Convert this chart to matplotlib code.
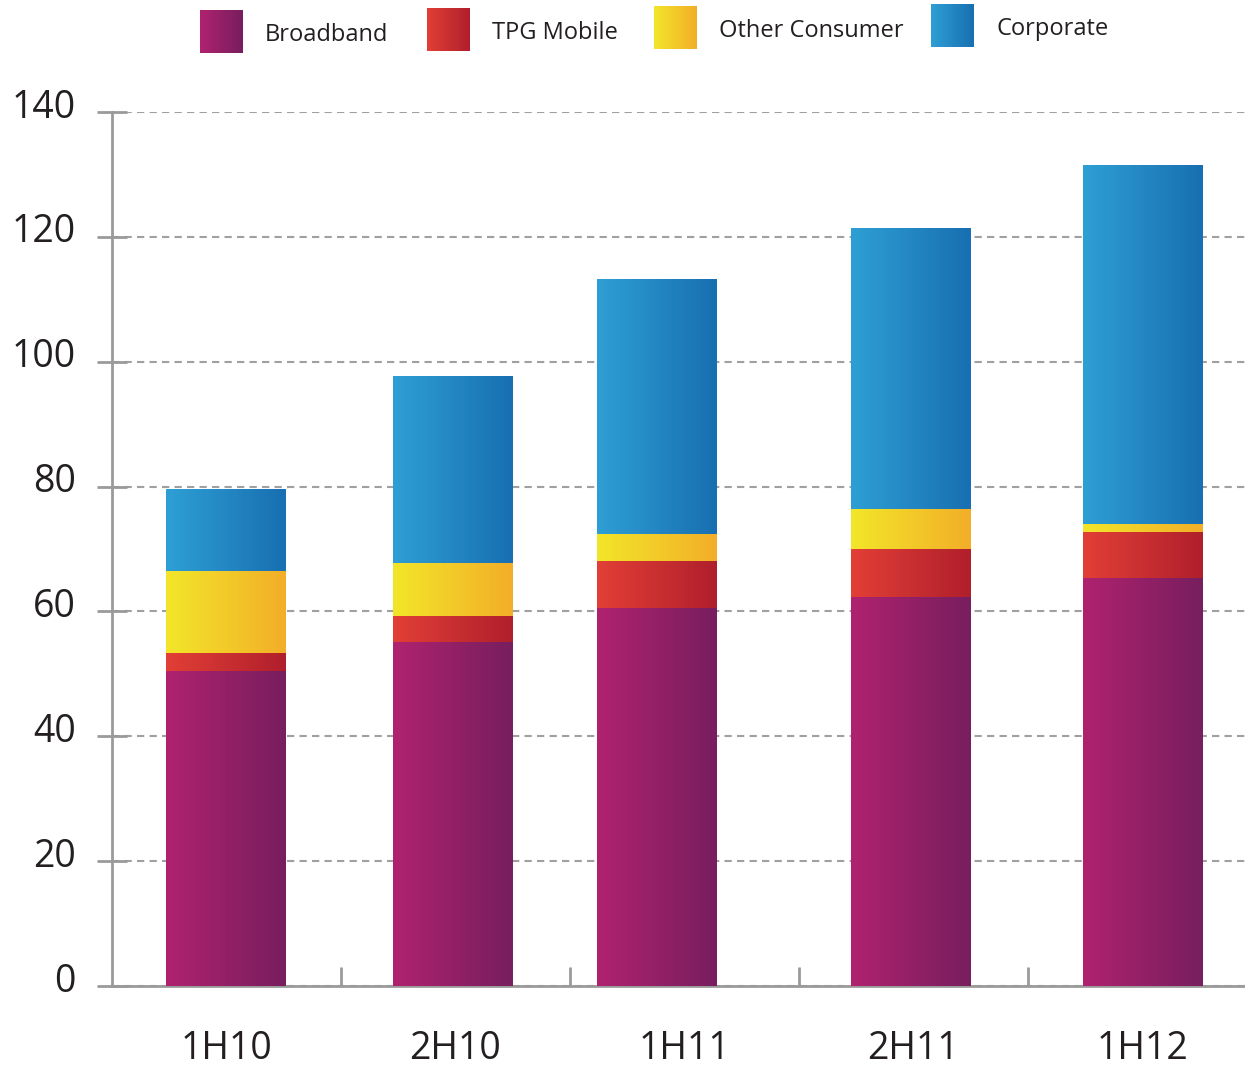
import numpy as np
import matplotlib
matplotlib.use("Agg")
import matplotlib.pyplot as plt
import matplotlib.transforms as mtransforms
from matplotlib.colors import LinearSegmentedColormap
from matplotlib.patches import Rectangle

plt.rcParams['font.family'] = ['Open Sans', 'DejaVu Sans']

# Data
periods = ["1H10", "2H10", "1H11", "2H11", "1H12"]
broadband = [50.5, 55.1, 60.5, 62.3, 65.4]
tpg_mobile = [2.8, 4.2, 7.6, 7.7, 7.3]
other_consumer = [13.2, 8.5, 4.3, 6.4, 1.3]
corporate = [13.1, 29.9, 40.8, 45.0, 57.5]

series_names = ["Broadband", "TPG Mobile", "Other Consumer", "Corporate"]
# left -> right gradient colours for each series
gradients = [("#b0226f", "#771e5e"),
             ("#e23f36", "#b01f2c"),
             ("#f3e62a", "#f2ae28"),
             ("#2e9fd5", "#186fb1")]

# bar layout (slots of width 1; bars are not quite centred in the source)
bar_pos = [0.498, 1.489, 2.382, 3.491, 4.502]
bar_w = 0.522

fig = plt.figure(figsize=(12.45, 10.68), dpi=100)
ax = fig.add_axes([112 / 1245, 1 - 986 / 1068, 1 - 112 / 1245, (986 - 112) / 1068])

grad = np.linspace(0, 1, 256).reshape(1, -1)


def gradient_fill(axis, patch, c1, c2):
    cmap = LinearSegmentedColormap.from_list("g", [c1, c2])
    x0, y0 = patch.get_x(), patch.get_y()
    w, h = patch.get_width(), patch.get_height()
    im = axis.imshow(grad, cmap=cmap, extent=[x0, x0 + w, y0, y0 + h],
                     aspect='auto', interpolation='bicubic', zorder=3)
    im.set_clip_path(patch)


bottom = np.zeros(len(periods))
for vals, (c1, c2) in zip([broadband, tpg_mobile, other_consumer, corporate], gradients):
    bars = ax.bar(bar_pos, vals, width=bar_w, bottom=bottom, color=c2,
                  edgecolor='none', zorder=2)
    for b in bars:
        gradient_fill(ax, b, c1, c2)
    bottom += np.array(vals)

ax.set_xlim(0, 4.95)
ax.set_ylim(0, 140)

# axes styling
for s in ['top', 'right']:
    ax.spines[s].set_visible(False)
for s in ['left', 'bottom']:
    ax.spines[s].set_color('#9a9a9a')
    ax.spines[s].set_linewidth(2)

ax.set_yticks(range(0, 141, 20))
ax.tick_params(axis='y', direction='inout', length=22, width=2, color='#9a9a9a',
               labelsize=27, labelcolor='#231f20', pad=15)
ax.yaxis.grid(True, linestyle=(0, (3.5, 2.5)), color='#a0a0a0', linewidth=1.5, zorder=0)
ax.set_axisbelow(True)

# labels sit a little above their grid lines in the source
shift = mtransforms.ScaledTranslation(0, 9 / 100, fig.dpi_scale_trans)
for lab in ax.get_yticklabels():
    lab.set_transform(lab.get_transform() + shift)

ax.set_xticks([i + 0.5 for i in range(len(periods))])
ax.set_xticklabels(periods)
ax.set_xticks([1, 2, 3, 4], minor=True)
ax.tick_params(axis='x', which='major', length=0, labelsize=27,
               labelcolor='#231f20', pad=32)
ax.tick_params(axis='x', which='minor', direction='in', length=14, width=2,
               color='#9a9a9a')

# legend along the top, gradient swatches
lax = fig.add_axes([0, 0, 1, 1])
lax.set_xlim(0, 1245)
lax.set_ylim(1068, 0)
lax.axis('off')
sw_x = [200, 427, 654, 931]
sw_y = [10, 8, 6, 4]
for name, (c1, c2), x, y in zip(series_names, gradients, sw_x, sw_y):
    r = Rectangle((x, y), 43, 43, facecolor='none', edgecolor='none')
    lax.add_patch(r)
    cmap = LinearSegmentedColormap.from_list("g", [c1, c2])
    im = lax.imshow(grad, cmap=cmap, extent=[x, x + 43, y + 43, y],
                    aspect='auto', interpolation='bicubic')
    im.set_clip_path(r)
    lax.text(x + 65, y + 25, name, fontsize=17, color='#231f20',
             va='center', ha='left')
lax.set_xlim(0, 1245)
lax.set_ylim(1068, 0)

fig.savefig("out.png", dpi=100)
